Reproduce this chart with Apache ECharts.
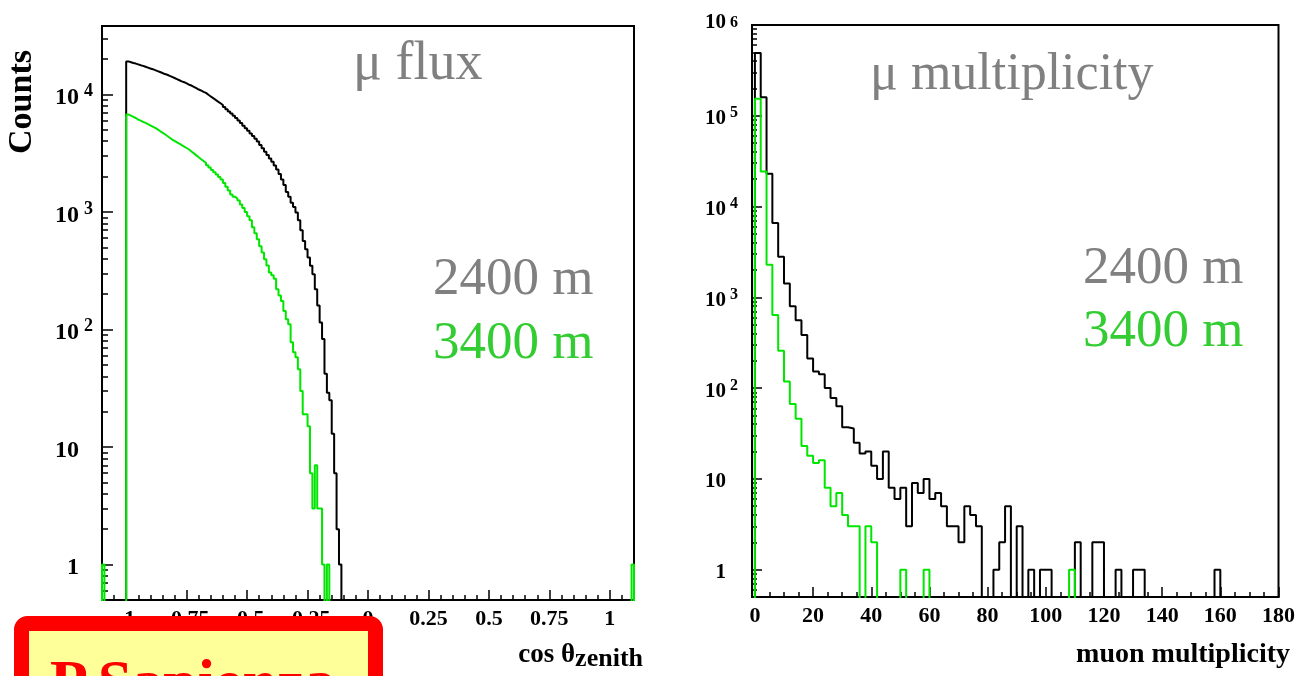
<!DOCTYPE html>
<html><head><meta charset="utf-8">
<script src="https://cdn.jsdelivr.net/npm/echarts@6/dist/echarts.min.js"></script>
<style>html,body{margin:0;padding:0;background:#fff}#c{width:1298px;height:676px}</style>
</head><body><div id="c"></div>
<script>
// ---------- data: muon flux vs cos(theta_zenith), bins of 0.01 starting at -1 ----------
const fluxBinLow = -1.0;
const fluxBinWidth = 0.01;
const flux2400 = [19100, 18800, 18500, 18300, 18000, 17700, 17500, 17200, 16900, 16600,
  16400, 16100, 15800, 15500, 15200, 14900, 14700, 14400, 14100, 13800,
  13500, 13200, 12900, 12700, 12400, 12100, 11900, 11600, 11300, 11000,
  10800, 10500, 10300, 9930, 9610, 9290, 8990, 8690, 8410, 8130,
  7800, 7480, 7160, 6870, 6590, 6310, 6010, 5710, 5420, 5150,
  4900, 4650, 4420, 4190, 3980, 3720, 3480, 3260, 3050, 2850,
  2670, 2490, 2300, 2100, 1890, 1700, 1480, 1350, 1200, 1100,
  990, 850, 700, 566, 482, 410, 348, 295, 220, 160,
  115, 83, 42, 29, 25, 13, 6, 2, 1];
const flux3400 = [6740, 6600, 6450, 6300, 6110, 5980, 5850, 5720, 5590, 5460,
  5330, 5200, 5040, 4880, 4730, 4580, 4430, 4280, 4130, 4020,
  3910, 3810, 3700, 3600, 3500, 3400, 3270, 3150, 3030, 2920,
  2810, 2710, 2620, 2500, 2390, 2280, 2180, 2080, 1980, 1890,
  1760, 1640, 1520, 1410, 1350, 1300, 1250, 1160, 1080, 1000,
  920, 850, 740, 660, 585, 510, 451, 396, 350, 305,
  290, 270, 220, 195, 175, 144, 122, 111, 78, 64,
  58, 46, 30, 19, 19, 15, 6, 3, 7, 3,
  3, 1, 0, 1];
// edge bins of the 3400 m histogram (at -1.10 and 1.09)
const fluxEdgeBinLows3400 = [-1.10, 1.09];
const fluxEdgeCounts3400 = [1, 1];

// ---------- data: muon multiplicity, bins of 2 starting at 0 ----------
const multBinLow = 0;
const multBinWidth = 2;
const mult2400 = [490000, 160000, 23000, 6600, 2800, 1420, 800, 560, 385, 212,
  152, 142, 100, 78, 63, 37, 36, 25, 19, 20,
  14, 10, 20, 8, 6, 8, 3, 9, 7, 10,
  6, 7, 5, 3, 3, 2, 5, 4, 3, 0,
  0, 1, 2, 5, 0, 3, 0, 1, 0, 1,
  1, 0, 0, 0, 0, 2, 0, 0, 2, 2,
  0, 0, 1, 0, 0, 1, 1, 0, 0, 0,
  0, 0, 0, 0, 0, 0, 0, 0, 0, 1];
const mult3400 = [154000, 24400, 2290, 640, 258, 118, 67, 46, 23, 18,
  15, 16, 8, 5, 7, 4, 3, 3, 0, 3,
  2, 0, 0, 0, 0, 1, 0, 0, 0, 1,
  0, 0, 0, 0, 0, 0, 0, 0, 0, 0,
  0, 0, 0, 0, 0, 0, 0, 0, 0, 0,
  0, 0, 0, 0, 1];

// ---------- tick labels ----------
const fluxTickLabels = [-1, -0.75, -0.5, -0.25, 0, 0.25, 0.5, 0.75, 1];
const fluxCountTickLabels = [1, 10, 100, 1000, 10000];
const multTickLabels = [0, 20, 40, 60, 80, 100, 120, 140, 160, 180];
const multCountTickLabels = [1, 10, 100, 1000, 10000, 100000, 1000000];

// ---------- helpers ----------
const FONT = '"Liberation Serif", "Times New Roman", serif';
const FLOOR = 1e-3;
function histPoints(low, width, counts) {
  const pts = [[low, FLOOR]];
  counts.forEach((c, i) => pts.push([+(low + i * width).toFixed(6), c > 0 ? c : FLOOR]));
  pts.push([+(low + counts.length * width).toFixed(6), FLOOR]);
  return pts;
}
function minorLog(lo, hi) {
  const out = [];
  for (let e = -1; e <= 6; e++) for (let m = 2; m <= 9; m++) {
    const v = +(m * Math.pow(10, e)).toPrecision(6);
    if (v > lo && v < hi) out.push(v);
  }
  return out;
}
function linTicks(lo, hi, step) {
  const out = [];
  for (let i = Math.ceil(lo / step - 1e-9); i * step <= hi + 1e-9; i++) out.push(+(i * step).toFixed(6));
  return out;
}
function powLabel(v) {
  const n = Math.round(Math.log10(v));
  if (n === 0) return '{b|1}{s| }';
  if (n === 1) return '{b|10}{s| }';
  return '{b|10}{s|' + n + '}';
}
function powLabelR(v) {
  const n = Math.round(Math.log10(v));
  if (n === 0) return '{b|1}{s| }';
  if (n === 1) return '{b|10}{s| }';
  if (n === 6) return '{t|10}{s|' + n + '}';
  return '{b|10}{s|' + n + '}';
}

const fluxYMin = 0.5, fluxYMax = 38200;
const multYMin = 0.5, multYMax = 1000000;

const green3400 = [].concat(
  histPoints(fluxEdgeBinLows3400[0], fluxBinWidth, [fluxEdgeCounts3400[0]]),
  histPoints(fluxBinLow, fluxBinWidth, flux3400),
  histPoints(fluxEdgeBinLows3400[1], fluxBinWidth, [fluxEdgeCounts3400[1]])
);

const tickStyle = { color: '#000', width: 1.5 };
const chart = echarts.init(document.getElementById('c'), null, { renderer: 'canvas' });

const option = {
  animation: false,
  backgroundColor: '#fff',
  grid: [
    { left: 102, top: 26, right: 664, bottom: 76, show: true, borderColor: '#000', borderWidth: 2, backgroundColor: 'transparent', containLabel: false },
    { left: 752, top: 25, right: 18, bottom: 79, show: true, borderColor: '#000', borderWidth: 2, backgroundColor: 'transparent', containLabel: false }
  ],
  xAxis: [
    { type: 'value', gridIndex: 0, min: -1.1, max: 1.1, position: 'bottom',
      axisLine: { onZero: false, lineStyle: { color: '#000', width: 2 } },
      splitLine: { show: false },
      axisTick: { inside: true, length: 10, lineStyle: tickStyle, customValues: fluxTickLabels },
      axisLabel: { customValues: fluxTickLabels, margin: 8, color: '#000', fontFamily: FONT, fontWeight: 'bold', fontSize: 22,
        formatter: v => String(v) } },
    { type: 'value', gridIndex: 0, min: -1.1, max: 1.1, position: 'bottom',
      axisLine: { show: false, onZero: false }, splitLine: { show: false }, axisLabel: { show: false },
      axisTick: { inside: true, length: 5, lineStyle: tickStyle, customValues: linTicks(-1.1, 1.1, 0.05) } },
    { type: 'value', gridIndex: 1, min: -1, max: 180, position: 'bottom',
      axisLine: { onZero: false, lineStyle: { color: '#000', width: 2 } },
      splitLine: { show: false },
      axisTick: { inside: true, length: 10, lineStyle: tickStyle, customValues: multTickLabels },
      axisLabel: { customValues: multTickLabels, margin: 8, color: '#000', fontFamily: FONT, fontWeight: 'bold', fontSize: 22 } },
    { type: 'value', gridIndex: 1, min: -1, max: 180, position: 'bottom',
      axisLine: { show: false, onZero: false }, splitLine: { show: false }, axisLabel: { show: false },
      axisTick: { inside: true, length: 5, lineStyle: tickStyle, customValues: linTicks(0, 180, 5) } }
  ],
  yAxis: [
    { type: 'log', logBase: 10, gridIndex: 0, min: fluxYMin, max: fluxYMax, position: 'left',
      axisLine: { onZero: false, lineStyle: { color: '#000', width: 2 } },
      splitLine: { show: false },
      axisTick: { inside: true, length: 11, lineStyle: tickStyle, customValues: fluxCountTickLabels },
      axisLabel: { customValues: fluxCountTickLabels, margin: 9, color: '#000', formatter: powLabel,
        rich: {
          b: { fontFamily: FONT, fontWeight: 'bold', fontSize: 24, lineHeight: 24, padding: [7, 0, 0, 0], color: '#000' },
          s: { fontFamily: FONT, fontWeight: 'bold', fontSize: 18, lineHeight: 18, verticalAlign: 'top', width: 11, padding: [0, 0, 0, 3], color: '#000' }
        } } },
    { type: 'log', logBase: 10, gridIndex: 0, min: fluxYMin, max: fluxYMax, position: 'left',
      axisLine: { show: false, onZero: false }, splitLine: { show: false }, axisLabel: { show: false },
      axisTick: { inside: true, length: 6, lineStyle: tickStyle, customValues: minorLog(fluxYMin, fluxYMax) } },
    { type: 'log', logBase: 10, gridIndex: 1, min: multYMin, max: multYMax, position: 'left',
      axisLine: { onZero: false, lineStyle: { color: '#000', width: 2 } },
      splitLine: { show: false },
      axisTick: { inside: true, length: 10, lineStyle: tickStyle, customValues: multCountTickLabels },
      axisLabel: { customValues: multCountTickLabels, margin: 14, color: '#000', formatter: powLabelR,
        rich: {
          b: { fontFamily: FONT, fontWeight: 'bold', fontSize: 21, lineHeight: 21, padding: [6, 0, 0, 0], color: '#000' },
          t: { fontFamily: FONT, fontWeight: 'bold', fontSize: 21, lineHeight: 21, padding: [0, 0, 4, 0], color: '#000' },
          s: { fontFamily: FONT, fontWeight: 'bold', fontSize: 16, lineHeight: 16, verticalAlign: 'top', width: 9, padding: [0, 0, 0, 3], color: '#000' }
        } } },
    { type: 'log', logBase: 10, gridIndex: 1, min: multYMin, max: multYMax, position: 'left',
      axisLine: { show: false, onZero: false }, splitLine: { show: false }, axisLabel: { show: false },
      axisTick: { inside: true, length: 5, lineStyle: tickStyle, customValues: minorLog(multYMin, multYMax) } }
  ],
  series: [
    { name: '2400 m', type: 'line', xAxisIndex: 0, yAxisIndex: 0, step: 'end', symbol: 'none', showSymbol: false, clip: true,
      data: histPoints(fluxBinLow, fluxBinWidth, flux2400), lineStyle: { color: '#000', width: 2 }, z: 3 },
    { name: '3400 m', type: 'line', xAxisIndex: 0, yAxisIndex: 0, step: 'end', symbol: 'none', showSymbol: false, clip: true,
      data: green3400, lineStyle: { color: '#00e600', width: 2 }, z: 4 },
    { name: '2400 m', type: 'line', xAxisIndex: 2, yAxisIndex: 2, step: 'end', symbol: 'none', showSymbol: false, clip: true,
      data: histPoints(multBinLow, multBinWidth, mult2400), lineStyle: { color: '#000', width: 2 }, z: 3 },
    { name: '3400 m', type: 'line', xAxisIndex: 2, yAxisIndex: 2, step: 'end', symbol: 'none', showSymbol: false, clip: true,
      data: histPoints(multBinLow, multBinWidth, mult3400), lineStyle: { color: '#00e600', width: 2 }, z: 4 }
  ],
  graphic: [
    { type: 'text', x: 22, y: 102, rotation: Math.PI / 2,
      style: { text: 'Counts', fontFamily: FONT, fontWeight: 'bold', fontSize: 34, fill: '#000', align: 'center', verticalAlign: 'middle', textAlign: 'center', textVerticalAlign: 'middle' } },
    { type: 'text', x: 353, y: 65,
      style: { text: 'μ flux', fontFamily: FONT, fontSize: 54, fill: '#808080', align: 'left', verticalAlign: 'middle', textAlign: 'left', textVerticalAlign: 'middle' } },
    { type: 'text', x: 433, y: 280,
      style: { text: '2400 m', fontFamily: FONT, fontSize: 53, fill: '#808080', align: 'left', verticalAlign: 'middle', textAlign: 'left', textVerticalAlign: 'middle' } },
    { type: 'text', x: 433, y: 344,
      style: { text: '3400 m', fontFamily: FONT, fontSize: 53, fill: '#33cc33', align: 'left', verticalAlign: 'middle', textAlign: 'left', textVerticalAlign: 'middle' } },
    { type: 'text', x: 870, y: 75,
      style: { text: 'μ multiplicity', fontFamily: FONT, fontSize: 52, fill: '#808080', align: 'left', verticalAlign: 'middle', textAlign: 'left', textVerticalAlign: 'middle' } },
    { type: 'text', x: 1083, y: 269,
      style: { text: '2400 m', fontFamily: FONT, fontSize: 53, fill: '#808080', align: 'left', verticalAlign: 'middle', textAlign: 'left', textVerticalAlign: 'middle' } },
    { type: 'text', x: 1083, y: 332,
      style: { text: '3400 m', fontFamily: FONT, fontSize: 53, fill: '#33cc33', align: 'left', verticalAlign: 'middle', textAlign: 'left', textVerticalAlign: 'middle' } },
    { type: 'text', x: 643, y: 642,
      style: { text: '{c|cos θ}{z|zenith}', align: 'right', verticalAlign: 'top', textAlign: 'right', textVerticalAlign: 'top',
        rich: {
          c: { fontFamily: FONT, fontWeight: 'bold', fontSize: 27, lineHeight: 28, verticalAlign: 'top', fill: '#000', color: '#000' },
          z: { fontFamily: FONT, fontWeight: 'bold', fontSize: 26, lineHeight: 28, padding: [7, 0, 0, 0], fill: '#000', color: '#000' }
        } } },
    { type: 'text', x: 1290, y: 655,
      style: { text: 'muon multiplicity', fontFamily: FONT, fontWeight: 'bold', fontSize: 28, fill: '#000', align: 'right', verticalAlign: 'middle', textAlign: 'right', textVerticalAlign: 'middle' } },
    { type: 'rect', z: 100, shape: { x: 21.5, y: 623.5, width: 354, height: 120, r: 6 },
      style: { fill: '#ffff99', stroke: '#ff0000', lineWidth: 15 } },
    { type: 'text', z: 101, x: 50, y: 686,
      style: { text: 'P.Sapienza', fontFamily: FONT, fontWeight: 'bold', fontSize: 62, fill: '#ff0000', align: 'left', verticalAlign: 'middle', textAlign: 'left', textVerticalAlign: 'middle' } }
  ]
};
chart.setOption(option);
</script>
</body></html>
